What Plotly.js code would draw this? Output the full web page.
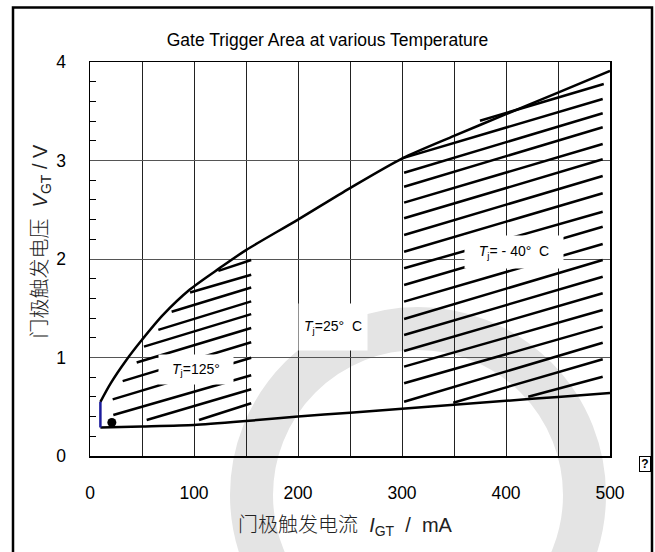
<!DOCTYPE html>
<html><head><meta charset="utf-8">
<script src="https://cdn.plot.ly/plotly-3.0.1.min.js"></script>
<style>html,body{margin:0;padding:0;background:#fff;}#chart{width:655px;height:552px;}</style>
</head><body><div id="chart"></div>
<script>
// Boundary curves (I_GT in mA, V_GT in V)
const upperX = [10, 20, 35, 50, 70, 96, 125, 150, 200, 250, 300, 350, 400, 450, 500];
const upperY = [0.55, 0.74, 0.975, 1.18, 1.43, 1.69, 1.91, 2.09, 2.40, 2.72, 3.02, 3.25, 3.47, 3.69, 3.91];
const lowerX = [10, 50, 100, 150, 200, 250, 300, 350, 400, 450, 500];
const lowerY = [0.29, 0.30, 0.315, 0.355, 0.40, 0.44, 0.48, 0.52, 0.56, 0.60, 0.64];
const edgeX = [10, 10];
const edgeY = [0.29, 0.55];
const dotX = [21];
const dotY = [0.34];

// Hatch lines, Tj = 125 °C region
const h125X0 = [123.4, 96.2, 78.5, 65.7, 51.9, 44.9, 31.4, 21.8, 22.4, 54.5, 104.8];
const h125Y0 = [1.88, 1.66, 1.465, 1.28, 1.11, 0.95, 0.76, 0.575, 0.416, 0.365, 0.365];
const h125X1 = [155, 155, 155, 155, 155, 155, 155, 155, 155, 155, 155];
const h125Y1 = [1.99, 1.84, 1.71, 1.57, 1.44, 1.30, 1.155, 0.998, 0.82, 0.677, 0.535];

// Hatch lines, Tj = -40 °C region
const h40X0 = [375, 300, 302, 302, 302, 302, 302, 302, 302, 302, 302, 302, 302, 302, 302, 302, 302, 349.3, 421.4];
const h40Y0 = [3.404, 3.022, 2.876, 2.734, 2.572, 2.413, 2.244, 2.074, 1.906, 1.736, 1.567, 1.391, 1.228, 1.066, 0.907, 0.738, 0.551, 0.541, 0.602];
const h40X1 = [494, 493, 493, 493, 493, 493, 493, 493, 493, 493, 493, 493, 493, 493, 493, 493, 493, 493, 493];
const h40Y1 = [3.777, 3.624, 3.479, 3.337, 3.168, 3.012, 2.843, 2.667, 2.480, 2.328, 2.152, 1.990, 1.820, 1.652, 1.482, 1.313, 1.150, 0.982, 0.805];

function segments(x0, y0, x1, y1) {
  const xs = [], ys = [];
  for (let i = 0; i < x0.length; i++) {
    xs.push(x0[i], x1[i], null);
    ys.push(y0[i], y1[i], null);
  }
  return {x: xs, y: ys};
}
const s125 = segments(h125X0, h125Y0, h125X1, h125Y1);
const s40 = segments(h40X0, h40Y0, h40X1, h40Y1);

const SANS = '"Liberation Sans", Arial, sans-serif';
const CJK = '"Liberation Sans", "Noto Sans CJK SC", sans-serif';

const traces = [
  {x: s125.x, y: s125.y, mode: 'lines', line: {color: '#000', width: 2.5}, hoverinfo: 'skip', showlegend: false},
  {x: s40.x, y: s40.y, mode: 'lines', line: {color: '#000', width: 2.5}, hoverinfo: 'skip', showlegend: false},
  {x: upperX, y: upperY, mode: 'lines', line: {color: '#000', width: 2.5, shape: 'spline', smoothing: 0.8}, showlegend: false},
  {x: lowerX, y: lowerY, mode: 'lines', line: {color: '#000', width: 2.5, shape: 'spline', smoothing: 0.6}, showlegend: false},
  {x: edgeX, y: edgeY, mode: 'lines', line: {color: '#1c1c9c', width: 2.5}, showlegend: false},
  {x: dotX, y: dotY, mode: 'markers', marker: {color: '#000', size: 9}, showlegend: false}
];

const layout = {
  width: 655, height: 552,
  margin: {l: 90, r: 45, t: 62, b: 96},
  paper_bgcolor: '#fff',
  plot_bgcolor: 'rgba(0,0,0,0)',
  showlegend: false,
  title: {text: 'Gate Trigger Area at various Temperature', font: {family: SANS, size: 17.5, color: '#000'},
          x: 0.5, xref: 'container', xanchor: 'center', y: 1 - 40/552, yref: 'container', yanchor: 'middle'},
  xaxis: {
    range: [0, 500], dtick: 100, tick0: 0, showgrid: true, gridcolor: '#222', gridwidth: 1,
    minor: {dtick: 50, showgrid: true, gridcolor: '#222', gridwidth: 1},
    showline: true, mirror: true, linecolor: '#000', linewidth: 1.5,
    ticks: '', ticklabelstandoff: 20, zeroline: false,
    tickfont: {family: SANS, size: 17.5, color: '#000'}, fixedrange: true
  },
  yaxis: {
    range: [0, 4], dtick: 1, tick0: 0, showgrid: true, gridcolor: '#555', gridwidth: 1,
    minor: {dtick: 0.2, ticks: 'inside', ticklen: 6, tickcolor: '#000', tickwidth: 1, showgrid: false},
    showline: true, mirror: true, linecolor: '#000', linewidth: 1.5,
    ticks: '', ticklabelstandoff: 19, zeroline: false,
    tickfont: {family: SANS, size: 17.5, color: '#000'}, fixedrange: true
  },
  shapes: [
    {type: 'circle', xref: 'paper', yref: 'paper', xsizemode: 'pixel', ysizemode: 'pixel',
     xanchor: (418 - 90) / 520, yanchor: (456 - 495) / 394,
     x0: -166.5, x1: 166.5, y0: -166.5, y1: 166.5,
     line: {color: '#e4e4e4', width: 43}, fillcolor: 'rgba(0,0,0,0)', layer: 'below'},
    {type: 'rect', xref: 'paper', yref: 'paper',
     x0: (13 - 90) / 520, x1: (652 - 90) / 520, y0: (456 - 570) / 394, y1: (456 - 7.5) / 394,
     line: {color: '#000', width: 2.5}, fillcolor: 'rgba(0,0,0,0)', layer: 'above'}
  ],
  annotations: [
    {xref: 'x', yref: 'y', x: 102, y: 0.88, xanchor: 'center', yanchor: 'middle',
     text: '<i>T</i><sub>j</sub>=125°', showarrow: false,
     font: {family: SANS, size: 14, color: '#000'}, bgcolor: '#fff', width: 72, height: 27},
    {xref: 'x', yref: 'y', x: 233.7, y: 1.305, xanchor: 'center', yanchor: 'middle',
     text: '<i>T</i><sub>j</sub>=25°  C', showarrow: false,
     font: {family: SANS, size: 14, color: '#000'}, bgcolor: '#fff', width: 66, height: 44},
    {xref: 'x', yref: 'y', x: 407.7, y: 2.07, xanchor: 'center', yanchor: 'middle',
     text: '<i>T</i><sub>j</sub>= - 40°  C', showarrow: false,
     font: {family: SANS, size: 14, color: '#000'}, bgcolor: '#fff', width: 96, height: 30},
    {xref: 'paper', yref: 'paper', x: (345 - 90) / 520, y: (456 - 526) / 394, xanchor: 'center', yanchor: 'middle',
     text: '门极触发电流  <i>I</i><sub>GT</sub>  /  mA', showarrow: false,
     font: {family: CJK, size: 20, color: '#222', weight: 300}},
    {xref: 'paper', yref: 'paper', x: (40.5 - 90) / 520, y: (456 - 241) / 394, xanchor: 'center', yanchor: 'middle',
     textangle: -90, text: '门极触发电压  <i>V</i><sub>GT</sub> / V', showarrow: false,
     font: {family: CJK, size: 20, color: '#222', weight: 300}},
    {xref: 'paper', yref: 'paper', x: (644.5 - 90) / 520, y: (456 - 464) / 394, xanchor: 'center', yanchor: 'middle',
     text: '<b>?</b>', showarrow: false, font: {family: SANS, size: 12, color: '#000'},
     bgcolor: '#fff', bordercolor: '#000', borderwidth: 1, borderpad: 0, width: 10, height: 14}
  ]
};

Plotly.newPlot('chart', traces, layout, {displayModeBar: false, staticPlot: true});
</script>
</body></html>
